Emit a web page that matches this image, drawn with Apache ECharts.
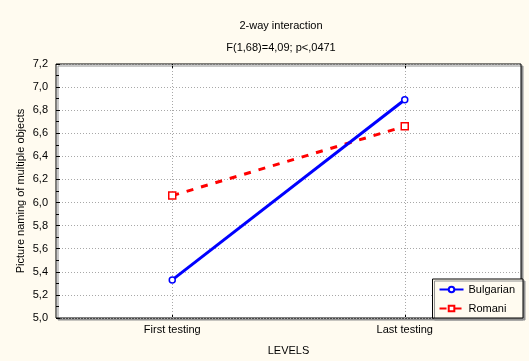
<!DOCTYPE html>
<html>
<head>
<meta charset="utf-8">
<script src="https://cdn.jsdelivr.net/npm/echarts@6/dist/echarts.min.js"></script>
<style>
  html, body { margin: 0; padding: 0; background: #fffbf0; }
  #chart { width: 529px; height: 361px; }
</style>
</head>
<body>
<div id="chart"></div>
<script>
// Interaction plot: picture naming scores by testing session and group
const levels = ['First testing', 'Last testing'];
const bulgarian = [5.33, 6.89];
const romani = [6.06, 6.66];
const titleLines = ['2-way interaction', 'F(1,68)=4,09; p<,0471'];
const yMin = 5.0, yMax = 7.2, yStep = 0.2;

const font = 'Liberation Sans';
const comma = v => v.toFixed(1).replace('.', ',');

const chart = echarts.init(document.getElementById('chart'), null, { renderer: 'canvas' });

chart.setOption({
  backgroundColor: '#fffbf0',
  animation: false,
  textStyle: { fontFamily: font },
  title: [
    { text: titleLines[0], left: 276, top: 15, textAlign: 'center',
      textStyle: { fontSize: 11, fontWeight: 'normal', color: '#000', fontFamily: font } },
    { text: titleLines[1], left: 276, top: 37, textAlign: 'center',
      textStyle: { fontSize: 11, fontWeight: 'normal', color: '#000', fontFamily: font } }
  ],
  grid: {
    left: 56, right: 8, top: 64, bottom: 40,
    show: true, backgroundColor: '#ffffff', borderColor: '#000', borderWidth: 1,
    shadowColor: '#909090', shadowOffsetX: 2, shadowOffsetY: 2, shadowBlur: 0
  },
  legend: {
    orient: 'vertical', right: 6, bottom: 43,
    data: ['Bulgarian', 'Romani'],
    backgroundColor: '#fffbf0', borderColor: '#000', borderWidth: 1,
    padding: [5, 8, 4, 6], itemGap: 8, itemWidth: 24, itemHeight: 7,
    textStyle: { fontSize: 11, color: '#000', fontFamily: font },
    shadowColor: '#909090', shadowOffsetX: 2, shadowOffsetY: 2, shadowBlur: 0
  },
  xAxis: [
    {
      type: 'category', data: levels, boundaryGap: true,
      name: 'LEVELS', nameLocation: 'middle', nameGap: 27,
      nameTextStyle: { fontSize: 11, color: '#000', fontFamily: font },
      axisLine: { show: false },
      axisTick: { show: true, inside: true, alignWithLabel: true, length: 4, lineStyle: { color: '#000' } },
      axisLabel: { fontSize: 11, color: '#000', margin: 6, fontFamily: font },
      splitLine: { show: false }
    },
    {
      type: 'category', data: levels, boundaryGap: true, position: 'top',
      axisLine: { show: false },
      axisTick: { show: true, inside: true, alignWithLabel: true, length: 4, lineStyle: { color: '#000' } },
      axisLabel: { show: false },
      splitLine: { show: false }
    }
  ],
  yAxis: {
    type: 'value', min: yMin, max: yMax, interval: yStep,
    name: 'Picture naming of multiple objects', nameLocation: 'middle', nameGap: 30,
    nameMoveOverlap: false,
    nameTextStyle: { fontSize: 11, color: '#000', fontFamily: font },
    axisLine: { show: false },
    axisTick: { show: true, inside: true, length: 4, lineStyle: { color: '#000' } },
    minorTick: { show: true, splitNumber: 2, length: 3, lineStyle: { color: '#000' } },
    axisLabel: { fontSize: 11, color: '#000', margin: 8, formatter: comma, fontFamily: font },
    splitLine: { show: true, lineStyle: { color: '#a8a8a8', type: [1, 2], width: 1 } }
  },
  series: [
    {
      name: 'Romani', type: 'line', data: romani,
      symbol: 'rect', symbolSize: 7, showSymbol: true,
      itemStyle: { color: '#ffffff', borderColor: '#ff0000', borderWidth: 1.5 },
      lineStyle: { color: '#ff0000', width: 3, type: [7, 8] },
      z: 3,
      markLine: {
        silent: true, symbol: 'none', label: { show: false },
        lineStyle: { color: '#a8a8a8', type: [1, 2], width: 1 },
        data: [{ xAxis: 0 }, { xAxis: 1 }],
        z: 1
      }
    },
    {
      name: 'Bulgarian', type: 'line', data: bulgarian,
      symbol: 'circle', symbolSize: 6, showSymbol: true,
      itemStyle: { color: '#ffffff', borderColor: '#0000ff', borderWidth: 1.5 },
      lineStyle: { color: '#0000ff', width: 3 },
      z: 4
    }
  ]
});
</script>
</body>
</html>
